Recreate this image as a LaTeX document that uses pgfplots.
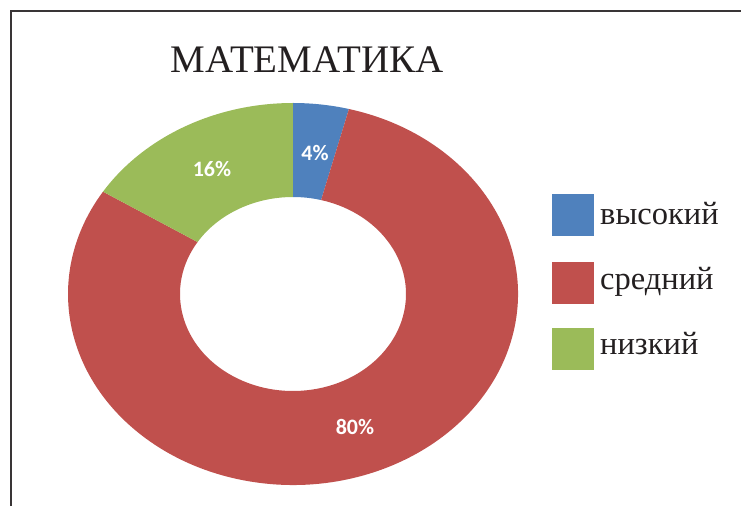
\documentclass[border=0pt]{standalone}
\usepackage{pgfplots}
\pgfplotsset{compat=1.18}
\usepackage{pgfplotstable}
\usepackage{fontspec}
\setmainfont{Liberation Serif}
\newfontfamily\lblfont{Carlito}
\definecolor{cblue}{HTML}{4F81BD}
\definecolor{cred}{HTML}{C0504D}
\definecolor{cgreen}{HTML}{9BBB59}
\definecolor{ctext}{HTML}{231F20}

% share of pupils per level, percent
\pgfplotstableread{
level value
1 4
2 80
3 16
}\datatable

\begin{document}
\begin{tikzpicture}
\useasboundingbox (0,0) rectangle (741pt,506pt);
% cumulative angles (clockwise from 12 o'clock)
\pgfplotstablegetelem{0}{value}\of\datatable \pgfmathsetmacro{\vA}{\pgfplotsretval}
\pgfplotstablegetelem{1}{value}\of\datatable \pgfmathsetmacro{\vB}{\pgfplotsretval}
\pgfplotstablegetelem{2}{value}\of\datatable \pgfmathsetmacro{\vC}{\pgfplotsretval}
\pgfmathsetmacro{\tot}{\vA+\vB+\vC}
\pgfmathsetmacro{\aA}{90}
\pgfmathsetmacro{\aB}{90-360*(\vA/\tot)}
\pgfmathsetmacro{\aC}{\aB-360*(\vB/\tot)}
\pgfmathsetmacro{\aD}{\aC-360*(\vC/\tot)}
\def\cx{293}\def\cy{212}
\def\ro{225}\def\rov{191}
\def\ri{113}\def\riv{97}
\begin{axis}[at={(0,0)}, anchor=south west, scale only axis,
  x=1pt, y=1pt, xmin=0, xmax=741, ymin=0, ymax=506,
  hide axis, clip=false]
% slices
\fill[cblue] (axis cs:{\cx+\ro*cos(\aA)},{\cy+\rov*sin(\aA)})
  arc[start angle=\aA, end angle=\aB, x radius=\ro pt, y radius=\rov pt]
  -- (axis cs:{\cx+\ri*cos(\aB)},{\cy+\riv*sin(\aB)})
  arc[start angle=\aB, end angle=\aA, x radius=\ri pt, y radius=\riv pt] -- cycle;
\fill[cred] (axis cs:{\cx+\ro*cos(\aB)},{\cy+\rov*sin(\aB)})
  arc[start angle=\aB, end angle=\aC, x radius=\ro pt, y radius=\rov pt]
  -- (axis cs:{\cx+\ri*cos(\aC)},{\cy+\riv*sin(\aC)})
  arc[start angle=\aC, end angle=\aB, x radius=\ri pt, y radius=\riv pt] -- cycle;
\fill[cgreen] (axis cs:{\cx+\ro*cos(\aC)},{\cy+\rov*sin(\aC)})
  arc[start angle=\aC, end angle=\aD, x radius=\ro pt, y radius=\rov pt]
  -- (axis cs:{\cx+\ri*cos(\aD)},{\cy+\riv*sin(\aD)})
  arc[start angle=\aD, end angle=\aC, x radius=\ri pt, y radius=\riv pt] -- cycle;
% value labels
\node[text=white, font=\lblfont\bfseries\fontsize{22}{26}\selectfont] at (axis cs:315,353) {4\%};
\node[text=white, font=\lblfont\bfseries\fontsize{22}{26}\selectfont] at (axis cs:212,337) {16\%};
\node[text=white, font=\lblfont\bfseries\fontsize{22}{26}\selectfont] at (axis cs:355,79) {80\%};
% title
\node[anchor=base, text=ctext, font=\fontsize{39}{46}\selectfont] at (axis cs:307,433) {МАТЕМАТИКА};
% legend
\fill[cblue] (axis cs:552,270) rectangle (axis cs:594,312);
\fill[cred] (axis cs:552,202) rectangle (axis cs:594,244);
\fill[cgreen] (axis cs:552,136) rectangle (axis cs:594,178);
\node[anchor=base west, inner sep=0pt, text=ctext, font=\fontsize{32.5}{38}\selectfont] at (axis cs:600,281) {высокий};
\node[anchor=base west, inner sep=0pt, text=ctext, font=\fontsize{32.5}{38}\selectfont] at (axis cs:600,216) {средний};
\node[anchor=base west, inner sep=0pt, text=ctext, font=\fontsize{32.5}{38}\selectfont] at (axis cs:600,151) {низкий};
% frame
\draw[line width=1.8pt, color=ctext!90] (axis cs:11,0) -- (axis cs:11,495) -- (axis cs:741,495);
\end{axis}
\end{tikzpicture}
\end{document}
